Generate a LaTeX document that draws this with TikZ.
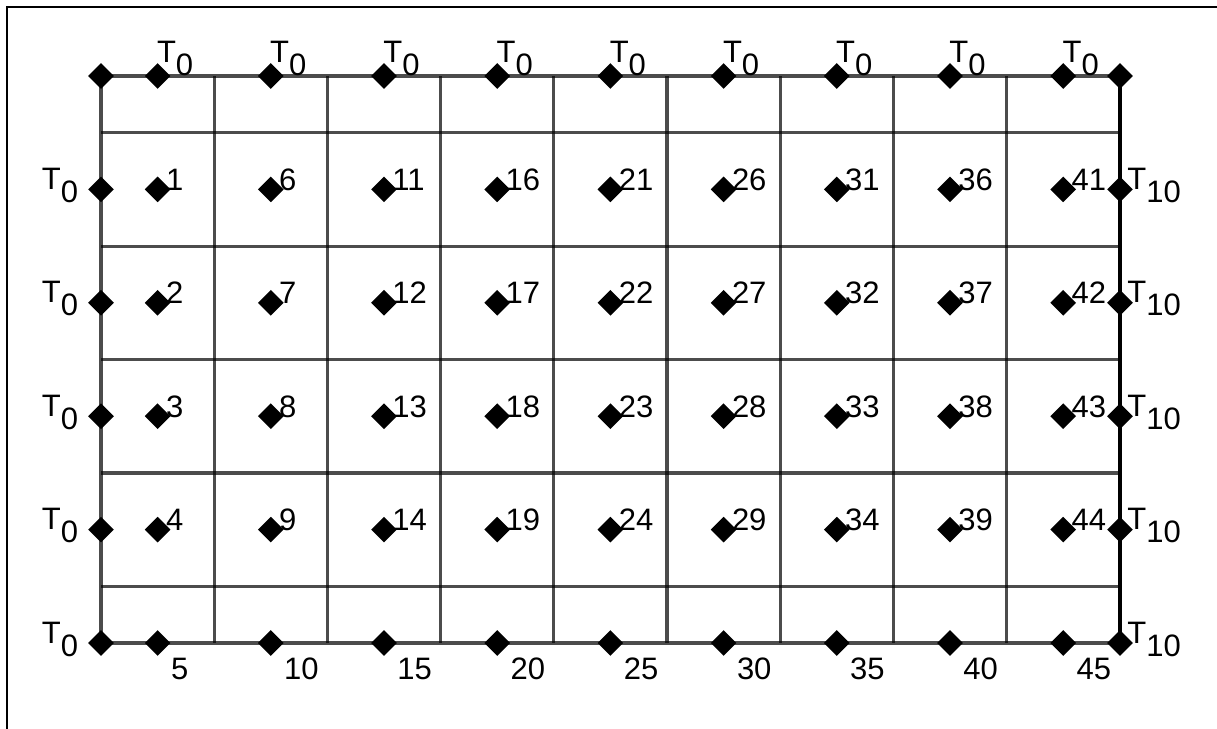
\documentclass[tikz,border=0pt]{standalone}
\usepackage{fontspec}
\setmainfont{Liberation Sans}
\usetikzlibrary{shapes.geometric}
\tikzset{
  mesh/.style={line width=1.6pt, draw=black, draw opacity=0.7},
  edgeline/.style={line width=1.6pt, draw=black},
  frameline/.style={line width=1pt, draw=black},
  pt/.style={diamond, fill=black, inner sep=0pt, minimum width=13pt, minimum height=13pt},
  lab/.style={inner sep=0pt, font=\fontsize{15.5}{18}\selectfont},
}
\newcommand{\lowsub}[1]{\raisebox{-6.5pt}{#1}}
\begin{document}
\begin{tikzpicture}[x=0.5pt,y=-0.5pt]
\useasboundingbox (0,0) rectangle (1217,729);
\draw[frameline] (7,729) -- (7,7) -- (1217,7);
% grid
\foreach \k in {1,...,8} \draw[mesh] ({101+113.2*\k},76) -- ({101+113.2*\k},643);
\foreach \r in {0,...,4} \draw[mesh] (101,{132.7+113.4*\r}) -- (1120,{132.7+113.4*\r});
\draw[mesh] (101,76) -- (1120,76);
\draw[mesh] (101,643) -- (1120,643);
\draw[mesh] (101,76) -- (101,643);
\draw[edgeline] (1120,76) -- (1120,643);
% corners
\node[pt] (ctl) at (101,76) {};
\node[pt] (ctr) at (1120,76) {};
% columns
\foreach \k in {0,...,8} {
  \pgfmathsetmacro\xx{157.6+113.2*\k}
  \node[pt] (t\k) at (\xx,76) {};
  \node[lab, anchor=base west] (tl\k) at (\xx-1,62) {T\lowsub{0}};
  \foreach \r in {1,...,4} {
    \pgfmathtruncatemacro\n{5*\k+\r}
    \node[pt] (n\n) at (\xx,{76+113.4*\r}) {};
    \node[lab, anchor=base west] (ln\n) at (\xx+8,{77+113.4*\r}) {\n};
  }
  \pgfmathtruncatemacro\m{5*\k+5}
  \node[pt] (n\m) at (\xx,643) {};
  \node[lab, anchor=base west] (ln\m) at (\xx+13,679) {\m};
}
% left and right boundary nodes
\foreach \r in {1,...,5} {
  \node[pt] (l\r) at (101,{76+113.4*\r}) {};
  \node[lab, anchor=base east] (ll\r) at (78.5,{76+113.4*\r}) {T\lowsub{0}};
  \node[pt] (r\r) at (1120,{76+113.4*\r}) {};
  \node[lab, anchor=base west] (rl\r) at (1127,{76+113.4*\r}) {T\lowsub{10}};
}
\end{tikzpicture}
\end{document}
